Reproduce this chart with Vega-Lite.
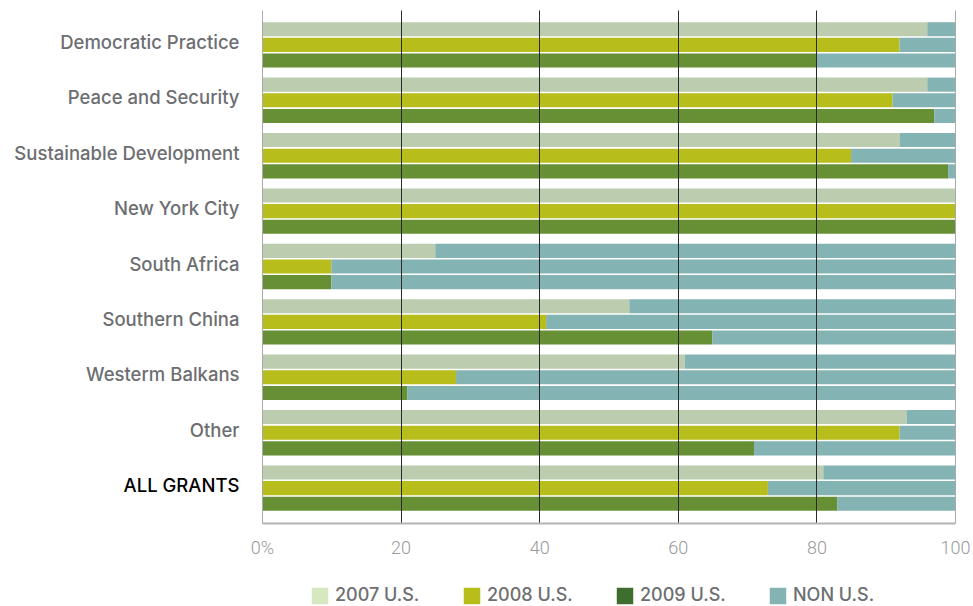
{
  "$schema": "https://vega.github.io/schema/vega-lite/v6.json",
  "width": 693,
  "height": 513,
  "autosize": {"type": "none"},
  "padding": {"left": 262, "top": 10, "right": 18, "bottom": 83},
  "background": "white",
  "data": {
    "values": [
      {"cat": "Democratic Practice", "year": "2007", "series": "2007 U.S.", "seg": 0, "value": 96},
      {"cat": "Democratic Practice", "year": "2007", "series": "NON U.S.", "seg": 1, "value": 4},
      {"cat": "Democratic Practice", "year": "2008", "series": "2008 U.S.", "seg": 0, "value": 92},
      {"cat": "Democratic Practice", "year": "2008", "series": "NON U.S.", "seg": 1, "value": 8},
      {"cat": "Democratic Practice", "year": "2009", "series": "2009 U.S.", "seg": 0, "value": 80},
      {"cat": "Democratic Practice", "year": "2009", "series": "NON U.S.", "seg": 1, "value": 20},
      {"cat": "Peace and Security", "year": "2007", "series": "2007 U.S.", "seg": 0, "value": 96},
      {"cat": "Peace and Security", "year": "2007", "series": "NON U.S.", "seg": 1, "value": 4},
      {"cat": "Peace and Security", "year": "2008", "series": "2008 U.S.", "seg": 0, "value": 91},
      {"cat": "Peace and Security", "year": "2008", "series": "NON U.S.", "seg": 1, "value": 9},
      {"cat": "Peace and Security", "year": "2009", "series": "2009 U.S.", "seg": 0, "value": 97},
      {"cat": "Peace and Security", "year": "2009", "series": "NON U.S.", "seg": 1, "value": 3},
      {"cat": "Sustainable Development", "year": "2007", "series": "2007 U.S.", "seg": 0, "value": 92},
      {"cat": "Sustainable Development", "year": "2007", "series": "NON U.S.", "seg": 1, "value": 8},
      {"cat": "Sustainable Development", "year": "2008", "series": "2008 U.S.", "seg": 0, "value": 85},
      {"cat": "Sustainable Development", "year": "2008", "series": "NON U.S.", "seg": 1, "value": 15},
      {"cat": "Sustainable Development", "year": "2009", "series": "2009 U.S.", "seg": 0, "value": 99},
      {"cat": "Sustainable Development", "year": "2009", "series": "NON U.S.", "seg": 1, "value": 1},
      {"cat": "New York City", "year": "2007", "series": "2007 U.S.", "seg": 0, "value": 100},
      {"cat": "New York City", "year": "2007", "series": "NON U.S.", "seg": 1, "value": 0},
      {"cat": "New York City", "year": "2008", "series": "2008 U.S.", "seg": 0, "value": 100},
      {"cat": "New York City", "year": "2008", "series": "NON U.S.", "seg": 1, "value": 0},
      {"cat": "New York City", "year": "2009", "series": "2009 U.S.", "seg": 0, "value": 100},
      {"cat": "New York City", "year": "2009", "series": "NON U.S.", "seg": 1, "value": 0},
      {"cat": "South Africa", "year": "2007", "series": "2007 U.S.", "seg": 0, "value": 25},
      {"cat": "South Africa", "year": "2007", "series": "NON U.S.", "seg": 1, "value": 75},
      {"cat": "South Africa", "year": "2008", "series": "2008 U.S.", "seg": 0, "value": 10},
      {"cat": "South Africa", "year": "2008", "series": "NON U.S.", "seg": 1, "value": 90},
      {"cat": "South Africa", "year": "2009", "series": "2009 U.S.", "seg": 0, "value": 10},
      {"cat": "South Africa", "year": "2009", "series": "NON U.S.", "seg": 1, "value": 90},
      {"cat": "Southern China", "year": "2007", "series": "2007 U.S.", "seg": 0, "value": 53},
      {"cat": "Southern China", "year": "2007", "series": "NON U.S.", "seg": 1, "value": 47},
      {"cat": "Southern China", "year": "2008", "series": "2008 U.S.", "seg": 0, "value": 41},
      {"cat": "Southern China", "year": "2008", "series": "NON U.S.", "seg": 1, "value": 59},
      {"cat": "Southern China", "year": "2009", "series": "2009 U.S.", "seg": 0, "value": 65},
      {"cat": "Southern China", "year": "2009", "series": "NON U.S.", "seg": 1, "value": 35},
      {"cat": "Westerm Balkans", "year": "2007", "series": "2007 U.S.", "seg": 0, "value": 61},
      {"cat": "Westerm Balkans", "year": "2007", "series": "NON U.S.", "seg": 1, "value": 39},
      {"cat": "Westerm Balkans", "year": "2008", "series": "2008 U.S.", "seg": 0, "value": 28},
      {"cat": "Westerm Balkans", "year": "2008", "series": "NON U.S.", "seg": 1, "value": 72},
      {"cat": "Westerm Balkans", "year": "2009", "series": "2009 U.S.", "seg": 0, "value": 21},
      {"cat": "Westerm Balkans", "year": "2009", "series": "NON U.S.", "seg": 1, "value": 79},
      {"cat": "Other", "year": "2007", "series": "2007 U.S.", "seg": 0, "value": 93},
      {"cat": "Other", "year": "2007", "series": "NON U.S.", "seg": 1, "value": 7},
      {"cat": "Other", "year": "2008", "series": "2008 U.S.", "seg": 0, "value": 92},
      {"cat": "Other", "year": "2008", "series": "NON U.S.", "seg": 1, "value": 8},
      {"cat": "Other", "year": "2009", "series": "2009 U.S.", "seg": 0, "value": 71},
      {"cat": "Other", "year": "2009", "series": "NON U.S.", "seg": 1, "value": 29},
      {"cat": "ALL GRANTS", "year": "2007", "series": "2007 U.S.", "seg": 0, "value": 81},
      {"cat": "ALL GRANTS", "year": "2007", "series": "NON U.S.", "seg": 1, "value": 19},
      {"cat": "ALL GRANTS", "year": "2008", "series": "2008 U.S.", "seg": 0, "value": 73},
      {"cat": "ALL GRANTS", "year": "2008", "series": "NON U.S.", "seg": 1, "value": 27},
      {"cat": "ALL GRANTS", "year": "2009", "series": "2009 U.S.", "seg": 0, "value": 83},
      {"cat": "ALL GRANTS", "year": "2009", "series": "NON U.S.", "seg": 1, "value": 17}
    ]
  },
  "encoding": {
    "y": {
      "field": "cat",
      "type": "nominal",
      "sort": ["Democratic Practice", "Peace and Security", "Sustainable Development", "New York City", "South Africa", "Southern China", "Westerm Balkans", "Other", "ALL GRANTS"],
      "scale": {"paddingInner": 0.18, "paddingOuter": 0.22},
      "axis": {
        "title": null,
        "domain": false,
        "ticks": false,
        "labelPadding": 23,
        "labelFont": "Inter",
        "labelFontSize": 18.5,
        "labelFontWeight": 500,
        "labelOffset": -2,
        "labelColor": {"condition": {"test": "datum.value === 'ALL GRANTS'", "value": "#000000"}, "value": "#6d6e71"},
        "labelLimit": 300
      }
    },
    "yOffset": {
      "field": "year",
      "type": "nominal",
      "sort": ["2007", "2008", "2009"],
      "scale": {"paddingInner": 0.1, "paddingOuter": 0}
    },
    "x": {
      "field": "value",
      "type": "quantitative",
      "stack": "zero",
      "scale": {"domain": [0, 100], "nice": false},
      "axis": {
        "title": null,
        "values": [0, 20, 40, 60, 80, 100],
        "labelExpr": "datum.value === 0 ? '0%' : datum.label",
        "ticks": false,
        "domain": true,
        "domainColor": "#b3b3b3",
        "domainWidth": 2,
        "grid": true,
        "gridColor": {"condition": {"test": "datum.value === 0 || datum.value === 100", "value": "#aaaaaa"}, "value": "#2a2a2a"},
        "gridWidth": 1,
        "zindex": 1,
        "labelPadding": 16,
        "labelFont": "Roboto",
        "labelFontSize": 18,
        "labelFontWeight": 300,
        "labelColor": "#9a9a9a",
        "labelFlush": false
      }
    },
    "order": {"field": "seg", "type": "quantitative"}
  },
  "layer": [
    {
      "mark": {"type": "bar", "cornerRadius": 0},
      "encoding": {
        "color": {
          "field": "series",
          "type": "nominal",
          "scale": {
            "domain": ["2007 U.S.", "2008 U.S.", "2009 U.S.", "NON U.S."],
            "range": ["#bbcdae", "#b7bd1a", "#679035", "#84b3b3"]
          },
          "legend": null
        }
      }
    },
    {
      "transform": [{"filter": "datum.seg > 5"}],
      "mark": {"type": "bar", "cornerRadius": 0},
      "encoding": {
        "color": {
          "field": "series",
          "type": "nominal",
          "scale": {
            "domain": ["2007 U.S.", "2008 U.S.", "2009 U.S.", "NON U.S."],
            "range": ["#d5e8bf", "#b8bd1c", "#3e6e2e", "#84b3b3"]
          },
          "legend": {
            "title": null,
            "orient": "none",
            "legendX": 49,
            "legendY": 577,
            "direction": "horizontal",
            "columns": 4,
            "columnPadding": 43,
            "symbolType": "square",
            "symbolSize": 272,
            "symbolStrokeWidth": 0,
            "symbolOpacity": 1,
            "labelFont": "Inter",
            "labelFontSize": 18,
            "labelFontWeight": 500,
            "labelColor": "#6d6e71",
            "labelOffset": 6
          }
        }
      }
    }
  ],
  "resolve": {"scale": {"color": "independent"}},
  "config": {"view": {"stroke": null}}
}
